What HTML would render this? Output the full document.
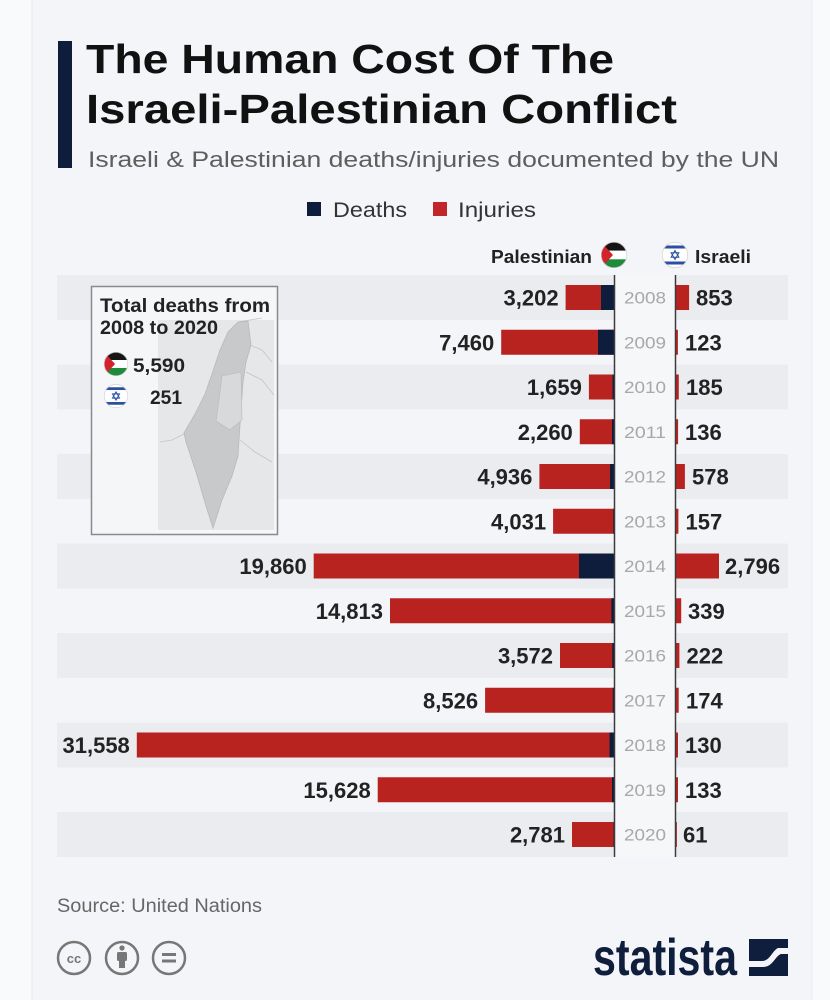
<!DOCTYPE html>
<html>
<head>
<meta charset="utf-8">
<style>
  html,body{margin:0;padding:0;background:#f9fafb;}
  body{width:830px;height:1000px;overflow:hidden;}
  svg{display:block;font-family:"Liberation Sans",Arial,sans-serif;}
</style>
</head>
<body>
<svg width="830" height="1000" viewBox="0 0 830 1000" xmlns="http://www.w3.org/2000/svg">
  <defs>
    <clipPath id="cclip"><circle cx="0" cy="0" r="13"/></clipPath>
    <g id="ps">
      <g clip-path="url(#cclip)">
        <rect x="-13" y="-13" width="26" height="8.7" fill="#151515"/>
        <rect x="-13" y="-4.3" width="26" height="8.7" fill="#ffffff"/>
        <rect x="-13" y="4.3" width="26" height="8.7" fill="#1d8a3c"/>
        <polygon points="-13,-13 -13,13 -1,0" fill="#d3232a"/>
      </g>
      <circle cx="0" cy="0" r="12.7" fill="none" stroke="#ccc" stroke-width="0.6"/>
    </g>
    <g id="il">
      <g clip-path="url(#cclip)">
        <rect x="-13" y="-13" width="26" height="26" fill="#ffffff"/>
        <rect x="-13" y="-9.5" width="26" height="3" fill="#2b4fa3"/>
        <rect x="-13" y="6.5" width="26" height="3" fill="#2b4fa3"/>
        <polygon points="0,-4.5 3.9,2.3 -3.9,2.3" fill="none" stroke="#2b4fa3" stroke-width="1"/>
        <polygon points="0,4.5 3.9,-2.3 -3.9,-2.3" fill="none" stroke="#2b4fa3" stroke-width="1"/>
      </g>
      <circle cx="0" cy="0" r="12.7" fill="none" stroke="#ccc" stroke-width="0.6"/>
    </g>
  </defs>

  <!-- card -->
  <rect x="32" y="0" width="780" height="1000" fill="#f4f5f8"/>
  <line x1="32" y1="0" x2="32" y2="1000" stroke="#e8eaed" stroke-width="1"/>
  <line x1="812" y1="0" x2="812" y2="1000" stroke="#e8eaed" stroke-width="1"/>

  <!-- title -->
  <rect x="58" y="41" width="14" height="127" fill="#0f1d3c"/>
  <text x="86" y="73" font-size="41" font-weight="bold" fill="#111" textLength="528" lengthAdjust="spacingAndGlyphs">The Human Cost Of The</text>
  <text x="86" y="123" font-size="41" font-weight="bold" fill="#111" textLength="591" lengthAdjust="spacingAndGlyphs">Israeli-Palestinian Conflict</text>
  <text x="88" y="167" font-size="22" fill="#5e5e5e" textLength="691" lengthAdjust="spacingAndGlyphs">Israeli &amp; Palestinian deaths/injuries documented by the UN</text>

  <!-- legend -->
  <rect x="307" y="202" width="14" height="14" fill="#0f1d3c"/>
  <text x="333" y="217" font-size="21" fill="#333" textLength="74" lengthAdjust="spacingAndGlyphs">Deaths</text>
  <rect x="433" y="202" width="14" height="14" fill="#c0262a"/>
  <text x="458" y="217" font-size="21" fill="#333" textLength="78" lengthAdjust="spacingAndGlyphs">Injuries</text>

  <!-- column headers -->
  <text x="491" y="263" font-size="18" font-weight="bold" fill="#222" textLength="101" lengthAdjust="spacingAndGlyphs">Palestinian</text>
  <use href="#ps" transform="translate(614,255)"/>
  <use href="#il" transform="translate(675,255)"/>
  <text x="695" y="263" font-size="18" font-weight="bold" fill="#222" textLength="56" lengthAdjust="spacingAndGlyphs">Israeli</text>

  <!-- row bands (even rows grey) -->
  <g fill="#eaecf0">
    <rect x="57" y="275.1" width="731" height="44.8"/>
    <rect x="57" y="364.6" width="731" height="44.8"/>
    <rect x="57" y="454.1" width="731" height="44.8"/>
    <rect x="57" y="543.6" width="731" height="44.8"/>
    <rect x="57" y="633.1" width="731" height="44.8"/>
    <rect x="57" y="722.6" width="731" height="44.8"/>
    <rect x="57" y="812.1" width="731" height="44.8"/>
  </g>
  <!-- year column -->
  <rect x="615" y="275" width="60" height="582" fill="#f6f7f9"/>

  <!-- inset box -->
  <rect x="91.5" y="286.5" width="186" height="248" fill="#f5f6f8" stroke="#8a8a8a" stroke-width="1.5"/>
  <rect x="158" y="320" width="116" height="210" fill="#e6e7e9"/>
  <!-- neighbour borders -->
  <g fill="none" stroke="#c4c5c7" stroke-width="0.8">
    <path d="M238 322 L262 318"/>
    <path d="M250 345 L262 350 L272 362"/>
    <path d="M246 372 L262 380 L274 395"/>
    <path d="M240 440 L255 452 L272 462"/>
    <path d="M184 434 L172 440 L160 442"/>
  </g>
  <path d="M238 322 L248 321 L251 345 L246 362 L243 382 L241 410 L239 440 L238 456 L232 476 L222 500 L213 528 L206 506 L196 472 L186 442 L184 433 L195 414 L205 394 L212 374 L220 350 L228 332 Z" fill="#c8c9cb" stroke="#b8b9bb" stroke-width="0.8"/>
  <path d="M222 376 L241 372 L242 420 L230 430 L216 421 L219 400 Z" fill="#d8d9db" stroke="#b8b9bb" stroke-width="0.6"/>
  <text x="100" y="312" font-size="19" font-weight="bold" fill="#222" textLength="170" lengthAdjust="spacingAndGlyphs">Total deaths from</text>
  <text x="100" y="334" font-size="19" font-weight="bold" fill="#222" textLength="118" lengthAdjust="spacingAndGlyphs">2008 to 2020</text>
  <use href="#ps" transform="translate(116,364) scale(0.92)"/>
  <text x="133" y="372" font-size="19" font-weight="bold" fill="#222" textLength="52" lengthAdjust="spacingAndGlyphs">5,590</text>
  <use href="#il" transform="translate(116,396) scale(0.92)"/>
  <text x="150" y="404" font-size="19" font-weight="bold" fill="#222" textLength="32" lengthAdjust="spacingAndGlyphs">251</text>

  <!-- Palestinian bars (injuries red, deaths navy) -->
  <g fill="#b8221f">
    <rect x="565.6" y="285" width="48.4" height="25"/>
    <rect x="501.2" y="329.75" width="112.8" height="25"/>
    <rect x="588.9" y="374.5" width="25.1" height="25"/>
    <rect x="579.8" y="419.25" width="34.2" height="25"/>
    <rect x="539.4" y="464" width="74.6" height="25"/>
    <rect x="553.1" y="508.75" width="60.9" height="25"/>
    <rect x="313.7" y="553.5" width="300.3" height="25"/>
    <rect x="390" y="598.25" width="224" height="25"/>
    <rect x="560" y="643" width="54" height="25"/>
    <rect x="485.1" y="687.75" width="128.9" height="25"/>
    <rect x="136.8" y="732.5" width="477.2" height="25"/>
    <rect x="377.7" y="777.25" width="236.3" height="25"/>
    <rect x="572" y="822" width="42" height="25"/>
  </g>
  <g fill="#0f1d3c">
    <rect x="601" y="285" width="13" height="25"/>
    <rect x="598" y="329.75" width="16" height="25"/>
    <rect x="612.5" y="374.5" width="1.5" height="25"/>
    <rect x="612" y="419.25" width="2" height="25"/>
    <rect x="610" y="464" width="4" height="25"/>
    <rect x="613.2" y="508.75" width="0.8" height="25"/>
    <rect x="579" y="553.5" width="35" height="25"/>
    <rect x="611.4" y="598.25" width="2.6" height="25"/>
    <rect x="612.3" y="643" width="1.7" height="25"/>
    <rect x="612.8" y="687.75" width="1.2" height="25"/>
    <rect x="609.5" y="732.5" width="4.5" height="25"/>
    <rect x="612" y="777.25" width="2" height="25"/>
    <rect x="613.5" y="822" width="0.5" height="25"/>
  </g>

  <!-- Israeli bars -->
  <g fill="#b8221f">
    <rect x="676" y="285" width="13.1" height="25"/>
    <rect x="676" y="329.75" width="1.9" height="25"/>
    <rect x="676" y="374.5" width="2.8" height="25"/>
    <rect x="676" y="419.25" width="2.1" height="25"/>
    <rect x="676" y="464" width="8.9" height="25"/>
    <rect x="676" y="508.75" width="2.4" height="25"/>
    <rect x="676" y="553.5" width="43" height="25"/>
    <rect x="676" y="598.25" width="5.2" height="25"/>
    <rect x="676" y="643" width="3.4" height="25"/>
    <rect x="676" y="687.75" width="2.7" height="25"/>
    <rect x="676" y="732.5" width="2" height="25"/>
    <rect x="676" y="777.25" width="2" height="25"/>
    <rect x="676" y="822" width="0.9" height="25"/>
  </g>

  <!-- axis lines -->
  <line x1="614.5" y1="275" x2="614.5" y2="857" stroke="#3c3c3c" stroke-width="1.5"/>
  <line x1="675.5" y1="275" x2="675.5" y2="857" stroke="#3c3c3c" stroke-width="1.5"/>

  <!-- year labels -->
  <g font-size="17" fill="#a8a8a8" text-anchor="middle">
    <text x="645" y="303.5" textLength="42" lengthAdjust="spacingAndGlyphs">2008</text>
    <text x="645" y="348.25" textLength="42" lengthAdjust="spacingAndGlyphs">2009</text>
    <text x="645" y="393" textLength="42" lengthAdjust="spacingAndGlyphs">2010</text>
    <text x="645" y="437.75" textLength="42" lengthAdjust="spacingAndGlyphs">2011</text>
    <text x="645" y="482.5" textLength="42" lengthAdjust="spacingAndGlyphs">2012</text>
    <text x="645" y="527.25" textLength="42" lengthAdjust="spacingAndGlyphs">2013</text>
    <text x="645" y="572" textLength="42" lengthAdjust="spacingAndGlyphs">2014</text>
    <text x="645" y="616.75" textLength="42" lengthAdjust="spacingAndGlyphs">2015</text>
    <text x="645" y="661.5" textLength="42" lengthAdjust="spacingAndGlyphs">2016</text>
    <text x="645" y="706.25" textLength="42" lengthAdjust="spacingAndGlyphs">2017</text>
    <text x="645" y="751" textLength="42" lengthAdjust="spacingAndGlyphs">2018</text>
    <text x="645" y="795.75" textLength="42" lengthAdjust="spacingAndGlyphs">2019</text>
    <text x="645" y="840.5" textLength="42" lengthAdjust="spacingAndGlyphs">2020</text>
  </g>

  <!-- Palestinian value labels -->
  <g font-size="22" font-weight="bold" fill="#222" text-anchor="end">
    <text x="558.6" y="305.5">3,202</text>
    <text x="494.2" y="350.25">7,460</text>
    <text x="581.9" y="395">1,659</text>
    <text x="572.8" y="439.75">2,260</text>
    <text x="532.4" y="484.5">4,936</text>
    <text x="546.1" y="529.25">4,031</text>
    <text x="306.7" y="574">19,860</text>
    <text x="383" y="618.75">14,813</text>
    <text x="553" y="663.5">3,572</text>
    <text x="478.1" y="708.25">8,526</text>
    <text x="129.8" y="753">31,558</text>
    <text x="370.7" y="797.75">15,628</text>
    <text x="565" y="842.5">2,781</text>
  </g>

  <!-- Israeli value labels -->
  <g font-size="22" font-weight="bold" fill="#222">
    <text x="696" y="305.5">853</text>
    <text x="685" y="350.25">123</text>
    <text x="686" y="395">185</text>
    <text x="685" y="439.75">136</text>
    <text x="692" y="484.5">578</text>
    <text x="685.5" y="529.25">157</text>
    <text x="725" y="574">2,796</text>
    <text x="688" y="618.75">339</text>
    <text x="686.5" y="663.5">222</text>
    <text x="686" y="708.25">174</text>
    <text x="685" y="753">130</text>
    <text x="685" y="797.75">133</text>
    <text x="683" y="842.5">61</text>
  </g>

  <!-- footer -->
  <text x="57" y="912" font-size="19" fill="#666" textLength="205" lengthAdjust="spacingAndGlyphs">Source: United Nations</text>
  <g fill="none" stroke="#777" stroke-width="2.5">
    <circle cx="74" cy="958" r="16"/>
    <circle cx="122" cy="958" r="16"/>
    <circle cx="169" cy="958" r="16"/>
  </g>
  <text x="74" y="963" font-size="13" font-weight="bold" fill="#777" text-anchor="middle">cc</text>
  <circle cx="122" cy="948" r="2.6" fill="#777"/>
  <rect x="117" y="952" width="10" height="9" rx="1.5" fill="#777"/>
  <rect x="119" y="960" width="6" height="8" fill="#777"/>
  <rect x="162" y="953" width="14" height="3" fill="#777"/>
  <rect x="162" y="959.5" width="14" height="3" fill="#777"/>

  <!-- statista logo -->
  <text x="593" y="975" font-size="52" font-weight="bold" fill="#0f1e3c" textLength="144" lengthAdjust="spacingAndGlyphs">statista</text>
  <rect x="749" y="939" width="39" height="37" fill="#0f1e3c"/>
  <path d="M749 961 L762 961 C770 961 772 951 778 948 L788 948 L788 954 L781 954 C775 956 773 967 763 967 L749 967 Z" fill="#f4f5f8"/>
</svg>
</body>
</html>
